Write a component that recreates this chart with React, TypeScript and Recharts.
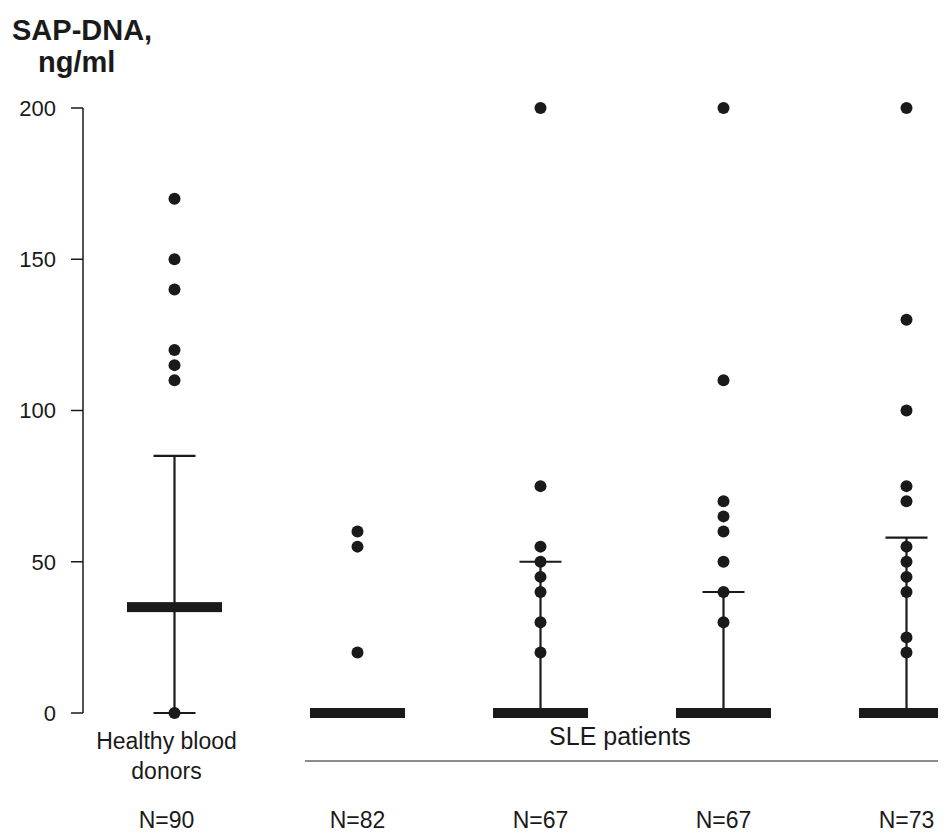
import { ComposedChart, Scatter, XAxis, YAxis, ErrorBar } from "recharts";

const groupIds = [0, 1, 2, 3, 4];
const nLabels = ["N=90", "N=82", "N=67", "N=67", "N=73"];
const yTicks = [0, 50, 100, 150, 200];

// individual measurements drawn as dots (ng/ml)
const healthyDots = [170, 150, 140, 120, 115, 110, 0];
const sleDots1 = [60, 55, 20];
const sleDots2 = [200, 75, 55, 50, 45, 40, 30, 20];
const sleDots3 = [200, 110, 70, 65, 60, 50, 40, 30];
const sleDots4 = [200, 130, 100, 75, 70, 55, 50, 45, 40, 25, 20];

// median bar and whisker ends
const medians = [35, 0, 0, 0, 0];
const whiskerLow = [0, 0, 0, 0, 0];
const whiskerHigh = [85, 0, 50, 40, 58];

const dotGroups = [healthyDots, sleDots1, sleDots2, sleDots3, sleDots4];
const dots = dotGroups.flatMap((vals, i) => vals.map((v) => ({ x: i, y: v })));
const summary = groupIds.map((i) => ({
  x: i,
  y: medians[i],
  err: [medians[i] - whiskerLow[i], whiskerHigh[i] - medians[i]],
}));

const INK = "#1a1a1a";
const FONT = "'Liberation Sans', Arial, sans-serif";

const Dot = (p: any) => <circle cx={p.cx} cy={p.cy} r={6} fill={INK} />;
const MedianBar = (p: any) => (
  <rect x={p.cx - 47.5} y={p.cy - 5} width={95} height={10} fill={INK} />
);

const GroupTick = ({ x, y, payload }: any) => {
  const i = payload.value;
  const common = {
    x: i === 0 ? x - 8 : x,
    textAnchor: "middle" as const,
    dominantBaseline: "central" as const,
    fontSize: 23,
    fill: INK,
    fontFamily: FONT,
  };
  return (
    <g>
      {i === 0 && (
        <>
          <text {...common} y={y + 28}>Healthy blood</text>
          <text {...common} y={y + 58}>donors</text>
        </>
      )}
      <text {...common} y={y + 107}>{nLabels[i]}</text>
    </g>
  );
};

export default function App() {
  return (
    <div style={{ position: "relative", width: 938, height: 826, overflow: "hidden", fontFamily: FONT }}>
      <ComposedChart width={1000} height={826} margin={{ top: 100, right: 10, bottom: 0, left: 0 }}>
        <XAxis
          type="number"
          dataKey="x"
          domain={[-0.5, 4.5]}
          ticks={groupIds}
          axisLine={false}
          tickLine={false}
          tickSize={0}
          tickMargin={0}
          height={121}
          tick={<GroupTick />}
        />
        <YAxis
          type="number"
          dataKey="y"
          domain={[0, 200]}
          ticks={yTicks}
          width={75}
          tickSize={12}
          tickMargin={15}
          axisLine={{ stroke: INK, strokeWidth: 1.5 }}
          tickLine={{ stroke: INK, strokeWidth: 1.5 }}
          tick={{ fill: INK, fontSize: 22, fontFamily: FONT }}
        />
        <Scatter data={summary} shape={<MedianBar />} isAnimationActive={false}>
          <ErrorBar dataKey="err" direction="y" width={21} stroke={INK} strokeWidth={2.2} />
        </Scatter>
        <Scatter data={dots} shape={<Dot />} isAnimationActive={false} />
      </ComposedChart>
      <svg width={938} height={826} style={{ position: "absolute", left: 0, top: 0, pointerEvents: "none" }}>
        <text x={4} y={32} fontSize={29} fontWeight="bold" fill={INK} fontFamily={FONT}>SAP-DNA,</text>
        <text x={30} y={64} fontSize={29} fontWeight="bold" fill={INK} fontFamily={FONT}>ng/ml</text>
        <text x={612} y={728} fontSize={25} textAnchor="middle" dominantBaseline="central" fill={INK} fontFamily={FONT}>
          SLE patients
        </text>
        <line x1={297} x2={938} y1={753} y2={753} stroke={INK} strokeWidth={1.2} />
      </svg>
    </div>
  );
}
